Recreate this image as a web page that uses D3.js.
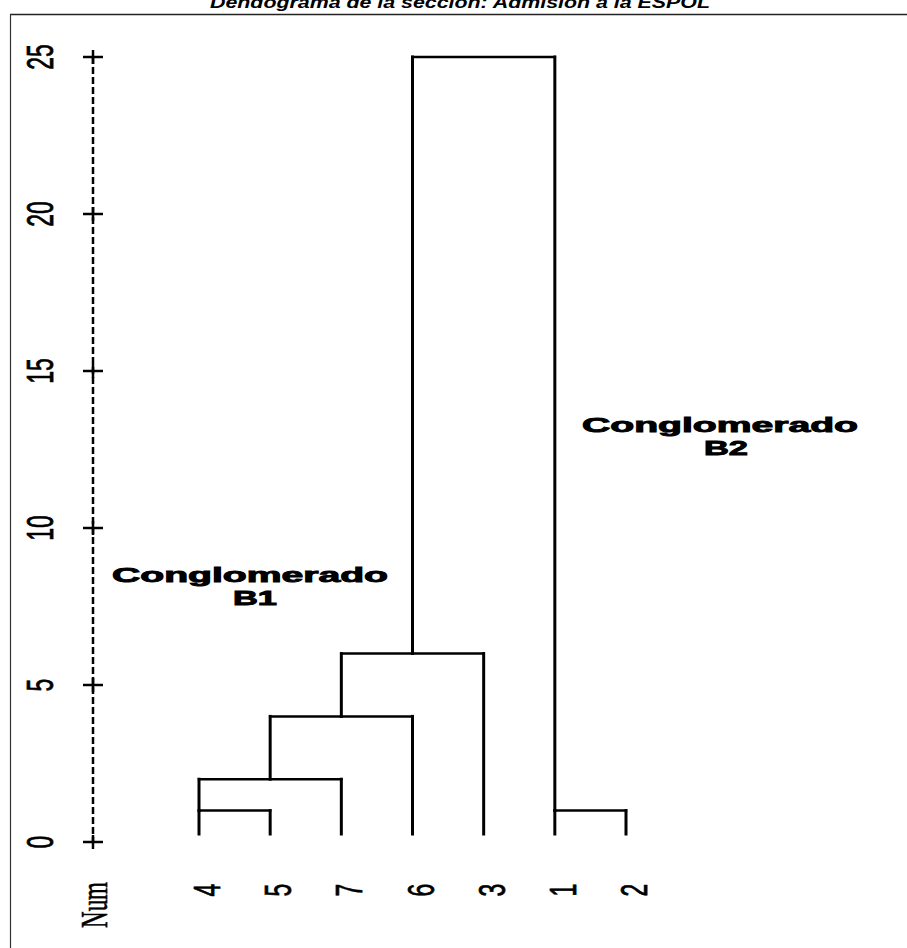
<!DOCTYPE html>
<html>
<head>
<meta charset="utf-8">
<script src="https://cdn.jsdelivr.net/npm/d3@7"></script>
<style>
  html, body { margin: 0; padding: 0; background: #fff; }
  svg { display: block; }
</style>
</head>
<body>
<svg id="chart" width="907" height="948"></svg>
<script>
// ---- data ----
const titleText = "Dendograma de la sección: Admisión a la ESPOL";
const leafOrder = ["4", "5", "7", "6", "3", "1", "2"];
const clusterIds = ["C1", "C2", "C3", "C4", "C5", "C6"];
const clusterLeft = ["4", "C1", "C2", "C3", "1", "C4"];
const clusterRight = ["5", "7", "6", "3", "2", "C5"];
const clusterHeight = [1, 2, 4, 6, 1, 25];
const clusterStem = ["left", "mid", "mid", "mid", "left", "mid"];
const yTicks = [0, 5, 10, 15, 20, 25];
const axisLabel = "Num";
const groupNames = ["Conglomerado", "Conglomerado"];
const groupCodes = ["B1", "B2"];

// ---- layout ----
const svg = d3.select("#chart");
const x = d3.scalePoint().domain(leafOrder).range([199, 626]);
const y = d3.scaleLinear().domain([0, 25]).range([842, 57]);
const leafBottom = y(0) - 8;
const axisX = 93;

// frame
svg.append("line").attr("x1", 10).attr("x2", 907).attr("y1", 14.5).attr("y2", 14.5)
  .attr("stroke", "#222").attr("stroke-width", 1.5);
svg.append("line").attr("x1", 10.5).attr("x2", 10.5).attr("y1", 14).attr("y2", 948)
  .attr("stroke", "#333").attr("stroke-width", 1.2);

// title (partially clipped at top, as in the reference)
svg.append("text")
  .attr("x", 460).attr("y", 8)
  .attr("text-anchor", "middle")
  .attr("font-family", "Liberation Sans, Arial, sans-serif")
  .attr("font-weight", "bold").attr("font-style", "italic")
  .attr("font-size", 16)
  .attr("textLength", 500).attr("lengthAdjust", "spacingAndGlyphs")
  .text(titleText);

// axis dashed line
svg.append("line")
  .attr("x1", axisX).attr("x2", axisX)
  .attr("y1", y(25)).attr("y2", y(0))
  .attr("stroke", "#000").attr("stroke-width", 2.5)
  .attr("stroke-dasharray", "7,3");

// ticks (+)
const tg = svg.append("g");
yTicks.forEach(t => {
  tg.append("line").attr("x1", axisX - 10).attr("x2", axisX + 10)
    .attr("y1", y(t)).attr("y2", y(t)).attr("stroke", "#000").attr("stroke-width", 2.5);
  tg.append("line").attr("x1", axisX).attr("x2", axisX)
    .attr("y1", y(t) - 7).attr("y2", y(t) + 7).attr("stroke", "#000").attr("stroke-width", 2.5);
  tg.append("text")
    .attr("transform", `translate(53,${y(t)}) rotate(-90) scale(0.62,1)`)
    .attr("text-anchor", "middle")
    .attr("font-family", "Liberation Sans, Arial, sans-serif")
    .attr("font-size", 37)
    .attr("stroke", "#000").attr("stroke-width", 0.8)
    .text(String(t));
});

// axis label
svg.append("text")
  .attr("transform", `translate(107,905) rotate(-90) scale(0.62,1)`)
  .attr("text-anchor", "middle")
  .attr("font-family", "Liberation Serif, Times New Roman, serif")
  .attr("font-size", 37)
  .attr("stroke", "#000").attr("stroke-width", 0.6)
  .text(axisLabel);

// dendrogram
const nodes = {};
leafOrder.forEach(l => { nodes[l] = { x: x(l), top: leafBottom }; });
const lines = svg.append("g").attr("stroke", "#000").attr("fill", "none").attr("stroke-linecap", "square");
clusterIds.forEach((id, i) => {
  const L = nodes[clusterLeft[i]], R = nodes[clusterRight[i]];
  const hy = y(clusterHeight[i]);
  [L, R].forEach(c => {
    lines.append("line").attr("x1", c.x).attr("x2", c.x)
      .attr("y1", c.top).attr("y2", hy).attr("stroke-width", 3);
  });
  lines.append("line").attr("x1", L.x).attr("x2", R.x)
    .attr("y1", hy).attr("y2", hy).attr("stroke-width", 2.5);
  const sx = clusterStem[i] === "left" ? L.x : (L.x + R.x) / 2;
  nodes[id] = { x: sx, top: hy };
});

// leaf labels
leafOrder.forEach(l => {
  svg.append("text")
    .attr("transform", `translate(${x(l) + 21},890) rotate(-90) scale(0.62,1)`)
    .attr("text-anchor", "middle")
    .attr("font-family", "Liberation Sans, Arial, sans-serif")
    .attr("font-size", 37)
    .attr("stroke", "#000").attr("stroke-width", 0.8)
    .text(l);
});

// group annotations
const annoPos = [{ cx: 250, base: 582, cx2: 255 }, { cx: 720, base: 432, cx2: 726 }];
groupNames.forEach((g, i) => {
  const p = annoPos[i];
  svg.append("text")
    .attr("x", p.cx).attr("y", p.base)
    .attr("text-anchor", "middle")
    .attr("font-family", "Liberation Sans, Arial, sans-serif")
    .attr("font-weight", "bold").attr("font-size", 19.5)
    .attr("stroke", "#000").attr("stroke-width", 0.9)
    .attr("textLength", 276).attr("lengthAdjust", "spacingAndGlyphs")
    .text(g);
  svg.append("text")
    .attr("x", p.cx2).attr("y", p.base + 23)
    .attr("text-anchor", "middle")
    .attr("font-family", "Liberation Sans, Arial, sans-serif")
    .attr("font-weight", "bold").attr("font-size", 19.5)
    .attr("stroke", "#000").attr("stroke-width", 0.9)
    .attr("textLength", 44).attr("lengthAdjust", "spacingAndGlyphs")
    .text(groupCodes[i]);
});
</script>
</body>
</html>
